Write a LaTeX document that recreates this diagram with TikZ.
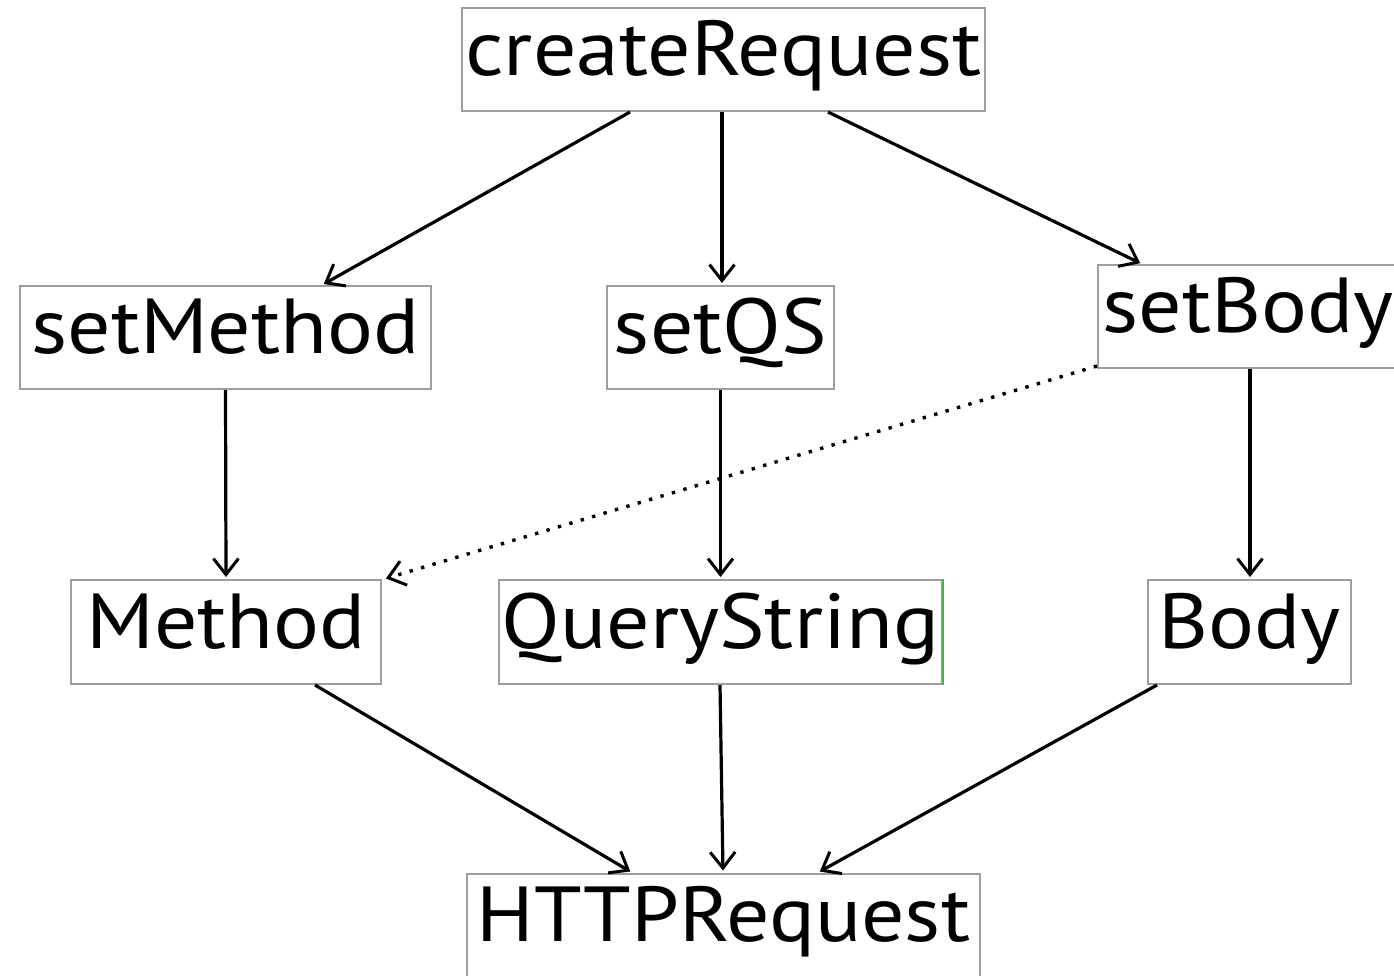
\documentclass[tikz,border=0pt]{standalone}
\usepackage{fontspec}
\setmainfont[FakeStretch=1.1]{PT Sans}
\usetikzlibrary{arrows.meta}
\tikzset{
  box/.style={draw=black!38, line width=2pt, inner sep=0pt, minimum height=103pt,
    text height=67.5pt, text depth=35.5pt, font=\fontsize{78}{90}\selectfont, align=center},
  tip/.style={-{Straight Barb[length=16pt,width=25pt,line width=3pt]}},
  conn/.style={line width=3.2pt, tip, shorten >=2pt},
  dotconn/.style={line width=3.4pt, dash pattern=on 3.4pt off 8.5pt, tip, shorten >=2pt}
}
\begin{document}
\begin{tikzpicture}[x=1pt,y=-1pt]
\useasboundingbox (0,0) rectangle (1394,975);
\fill[white] (0,0) rectangle (1394,975);
\node[box, minimum width=523pt] (cr) at (723.5,59.5) {createRequest};
\node[box, minimum width=411pt] (sm) at (225.5,337.5) {setMethod};
\node[box, minimum width=227pt] (sq) at (720.5,337.5) {setQS};
\node[box, minimum width=300pt] (sb) at (1248,316.5) {setBody};
\node[box, minimum width=310pt, minimum height=104pt] (me) at (226,632) {Method};
\node[box, minimum width=443pt, minimum height=104pt] (qs) at (720.5,632) {QueryString};
\node[box, minimum width=203pt, minimum height=104pt] (bo) at (1249.5,632) {Body};
\node[box, minimum width=513pt] (hr) at (723.5,925) {HTTPRequest};
\draw[green!55!black!70, line width=2pt] (qs.north east) -- (qs.south east);

\draw[conn] ([xshift=-93.5pt]cr.south) -- ([xshift=96.5pt]sm.north);
\draw[conn] ([xshift=-1.5pt]cr.south) -- ([xshift=1.5pt]sq.north);
\draw[conn] ([xshift=104.5pt]cr.south) -- ([xshift=-106pt]sb.north);
\draw[conn] (sm.south) -- (me.north);
\draw[conn] (sq.south) -- (qs.north);
\draw[conn] ([xshift=2pt]sb.south) -- ([xshift=0.5pt]bo.north);
\draw[dotconn] ([yshift=3pt]sb.south west) -- ([xshift=2pt]me.north east);
\draw[conn] ([xshift=89pt]me.south) -- ([xshift=-91.5pt]hr.north);
\draw[conn] ([xshift=-0.5pt]qs.south) -- ([xshift=-0.5pt]hr.north);
\draw[conn] ([xshift=-92.5pt]bo.south) -- ([xshift=94.5pt]hr.north);
\end{tikzpicture}
\end{document}
